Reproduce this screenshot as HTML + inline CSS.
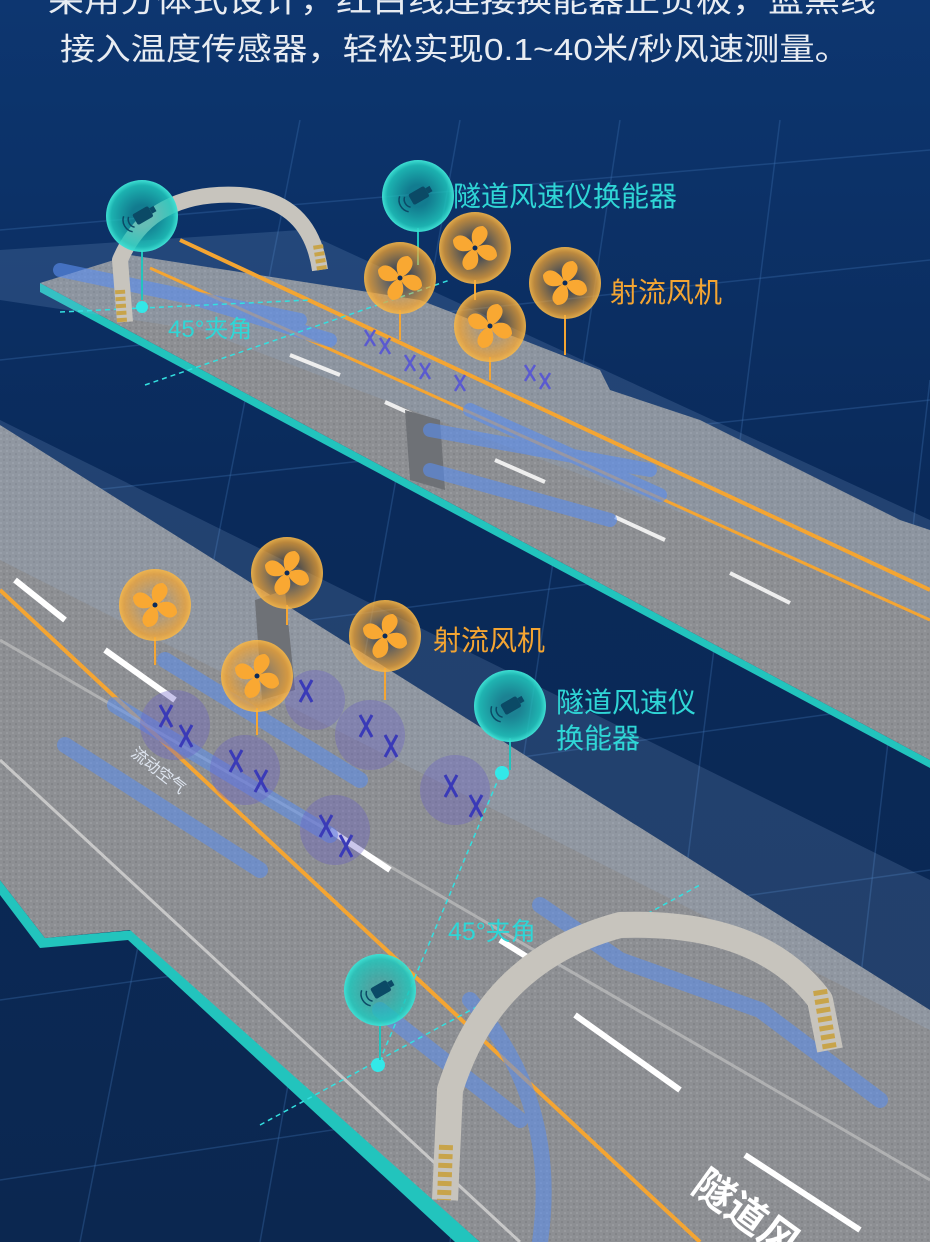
<!DOCTYPE html>
<html><head><meta charset="utf-8"><style>
html,body{margin:0;padding:0;width:930px;height:1242px;overflow:hidden;background:#0b2c5c}
svg{display:block}
text{font-family:"Liberation Sans","Noto Sans CJK SC",sans-serif}
</style></head><body>
<svg width="930" height="1242" viewBox="0 0 930 1242" xmlns="http://www.w3.org/2000/svg">
<defs>
<linearGradient id="bg" x1="0" y1="0" x2="0" y2="1">
<stop offset="0" stop-color="#0d3670"/><stop offset="0.4" stop-color="#0a2a5a"/><stop offset="1" stop-color="#0b2750"/></linearGradient>
<radialGradient id="fan" cx="0.5" cy="0.5" r="0.5"><stop offset="0.3" stop-color="#f4a532" stop-opacity="0.25"/><stop offset="0.85" stop-color="#f4a532" stop-opacity="0.75"/><stop offset="1" stop-color="#f8b848" stop-opacity="0.9"/></radialGradient>
<radialGradient id="tr" cx="0.5" cy="0.5" r="0.5"><stop offset="0.3" stop-color="#17b8b0" stop-opacity="0.55"/><stop offset="0.85" stop-color="#1fc8bd" stop-opacity="0.85"/><stop offset="1" stop-color="#3fe0d4"/></radialGradient>
<g id="fanI">
<circle r="36" fill="url(#fan)"/>
<g fill="#f9a832">
<path d="M0,0 C-6,-10 -4,-22 8,-22 C18,-16 10,-4 0,0Z"/>
<path d="M0,0 C10,-6 22,-4 22,8 C16,18 4,10 0,0Z"/>
<path d="M0,0 C6,10 4,22 -8,22 C-18,16 -10,4 0,0Z"/>
<path d="M0,0 C-10,6 -22,4 -22,-8 C-16,-18 -4,-10 0,0Z"/>
</g><circle r="2.5" fill="#0b2c5c"/>
</g>
<g id="trI">
<circle r="36" fill="url(#tr)"/>
<g transform="rotate(-30)"><rect x="-8" y="-6" width="18" height="12" rx="2" fill="#0b4a66"/><rect x="10" y="-3" width="5" height="6" fill="#0b4a66"/>
<path d="M-12,-6 A8,8 0 0 0 -12,6 M-16,-9 A12,12 0 0 0 -16,9" stroke="#0b4a66" stroke-width="1.5" fill="none"/></g>
</g>
<pattern id="asph" width="6" height="6" patternUnits="userSpaceOnUse"><rect width="6" height="6" fill="#8d8f93"/><circle cx="1" cy="1" r="0.8" fill="#a5a7ab"/><circle cx="4" cy="4" r="0.8" fill="#76787c"/></pattern>
</defs>
<rect width="930" height="1242" fill="url(#bg)"/>
<g stroke="#3d6fb0" stroke-opacity="0.35" stroke-width="1.5" fill="none">
<path d="M0,230 L930,150 M0,360 L930,260 M0,500 L930,400 M0,660 L930,540 M0,830 L930,700 M0,1000 L930,870 M0,1180 L930,1040"/>
<path d="M80,1242 L300,120 M260,1242 L460,120 M450,1242 L620,120 M640,1242 L780,120 M830,1242 L930,380"/>
</g>
<text x="48" y="12" font-size="31" fill="#e8ecf2" textLength="828" lengthAdjust="spacingAndGlyphs">采用分体式设计，红白线连接换能器正负极，蓝黑线</text>
<text x="60" y="60" font-size="31" fill="#e8ecf2" textLength="790" lengthAdjust="spacingAndGlyphs">接入温度传感器，轻松实现0.1~40米/秒风速测量。</text>

<!-- top road -->
<polygon points="40,283 40,292 930,768 930,760" fill="#22c4bd"/>
<polygon points="40,283 130,255 420,300 600,370 610,390 700,420 900,520 930,530 930,760" fill="url(#asph)"/>
<polygon points="0,250 300,230 930,520 930,620 700,520 200,330 0,300" fill="#8fb4e0" opacity="0.18"/>
<path d="M180,240 L930,590" stroke="#f4a532" stroke-width="4"/>
<path d="M150,268 L930,620" stroke="#f4a532" stroke-width="3"/>
<path d="M290,355 L340,375 M385,402 L425,420 M495,460 L545,482 M615,517 L665,540 M730,573 L790,603" stroke="#eee" stroke-width="4"/>
<polygon points="405,410 440,420 445,490 410,480" fill="#6e7176"/>
<g stroke="#5a8ef0" stroke-width="14" opacity="0.6" stroke-linecap="round" fill="none">
<path d="M60,270 L300,320"/><path d="M200,300 L330,340"/><path d="M430,430 L650,470"/><path d="M430,470 L610,520"/><path d="M470,410 L660,495"/></g>
<g stroke="#5a5ad0" stroke-width="2.5">
<path d="M365,330 l10,16 M375,330 l-10,16 M380,338 l10,16 M390,338 l-10,16 M405,355 l10,16 M415,355 l-10,16 M420,363 l10,16 M430,363 l-10,16 M455,375 l10,16 M465,375 l-10,16 M525,365 l10,16 M535,365 l-10,16 M540,373 l10,16 M550,373 l-10,16"/></g>
<path d="M60,312 L310,300 M145,385 L450,280" stroke="#33e0e0" stroke-width="1.5" stroke-dasharray="5,4"/>
<circle cx="142" cy="307" r="6" fill="#33e8e8"/>
<text x="168" y="337" font-size="24" fill="#2fd6d6">45°夹角</text>
<!-- top arch -->
<path d="M125,322 L120,260 Q150,190 240,195 Q310,200 320,270" stroke="#c7c4bd" stroke-width="16" fill="none" stroke-linejoin="round"/>
<path d="M120,290 L122,322 M318,245 L322,270" stroke="#c8a44a" stroke-width="10" stroke-dasharray="4,3"/>

<!-- bottom road -->
<polygon points="0,880 45,938 135,930 480,1242 455,1242 128,940 40,948 0,895" fill="#22c4bd"/>
<polygon points="0,425 930,1010 930,1242 480,1242 130,930 45,938 0,880" fill="url(#asph)"/>
<polygon points="0,420 930,880 930,1030 0,560" fill="#9fc0ea" opacity="0.16"/>
<path d="M0,590 L700,1242" stroke="#f4a532" stroke-width="4"/>
<path d="M0,760 L520,1242" stroke="#c8c8c8" stroke-width="3"/>
<path d="M0,640 L930,1180" stroke="#c8c8c8" stroke-width="3" opacity="0.6"/>
<path d="M15,580 L65,620 M105,650 L175,700 M330,830 L390,870 M500,940 L540,965 M575,1015 L680,1090 M745,1155 L860,1230" stroke="#fff" stroke-width="6"/>
<polygon points="255,600 285,590 295,690 262,700" fill="#6e7176"/>
<g stroke="#5a8ef0" stroke-width="16" opacity="0.55" stroke-linecap="round" fill="none">
<path d="M65,745 L260,870"/><path d="M115,705 L330,835"/><path d="M165,660 L360,780"/><path d="M380,1010 L520,1120"/><path d="M540,905 L620,960 L760,1010 L880,1100"/><path d="M470,1000 Q560,1100 540,1242"/></g>
<g fill="#6a5fc8" opacity="0.35"><circle cx="175" cy="725" r="35"/><circle cx="245" cy="770" r="35"/><circle cx="335" cy="830" r="35"/><circle cx="370" cy="735" r="35"/><circle cx="455" cy="790" r="35"/><circle cx="315" cy="700" r="30"/></g>
<g stroke="#3a3ab8" stroke-width="3">
<path d="M160,705 l12,22 M172,705 l-12,22 M180,725 l12,22 M192,725 l-12,22 M230,750 l12,22 M242,750 l-12,22 M255,770 l12,22 M267,770 l-12,22 M320,815 l12,22 M332,815 l-12,22 M340,835 l12,22 M352,835 l-12,22 M300,680 l12,22 M312,680 l-12,22 M360,715 l12,22 M372,715 l-12,22 M385,735 l12,22 M397,735 l-12,22 M445,775 l12,22 M457,775 l-12,22 M470,795 l12,22 M482,795 l-12,22"/></g>
<text x="130" y="755" font-size="16" fill="#dfe6f0" transform="rotate(38 130 755)">流动空气</text>
<path d="M500,775 L378,1065 M260,1125 L700,885" stroke="#33e0e0" stroke-width="1.5" stroke-dasharray="5,4"/>
<circle cx="502" cy="773" r="7" fill="#33e8e8"/><circle cx="378" cy="1065" r="7" fill="#33e8e8"/>
<text x="448" y="940" font-size="25" fill="#2fd6d6">45°夹角</text>
<!-- bottom arch -->
<path d="M445,1200 L450,1090 Q490,960 620,925 Q760,920 820,1000 L830,1050" stroke="#c7c4bd" stroke-width="26" fill="none" stroke-linejoin="round"/>
<path d="M446,1145 L444,1200 M820,990 L830,1050" stroke="#c8a44a" stroke-width="14" stroke-dasharray="5,4"/>
<text x="690" y="1190" font-size="40" fill="#fff" font-weight="bold" transform="rotate(36 690 1190)">隧道风</text>

<!-- pins & icons -->
<g stroke="#f4a532" stroke-width="2">
<path d="M400,310 V340 M475,280 V300 M565,315 V355 M490,357 V380 M287,605 V625 M155,637 V665 M385,668 V700 M257,708 V735"/></g>
<g stroke="#22c4bd" stroke-width="2"><path d="M142,250 V300 M418,228 V265 M510,738 V770 M380,1022 V1060"/></g>
<use href="#fanI" x="400" y="278"/><use href="#fanI" x="475" y="248"/><use href="#fanI" x="565" y="283"/><use href="#fanI" x="490" y="326"/>
<use href="#fanI" x="287" y="573"/><use href="#fanI" x="155" y="605"/><use href="#fanI" x="385" y="636"/><use href="#fanI" x="257" y="676"/>
<use href="#trI" x="142" y="216"/><use href="#trI" x="418" y="196"/><use href="#trI" x="510" y="706"/><use href="#trI" x="380" y="990"/>
<text x="453" y="206" font-size="28" fill="#2fd6d6">隧道风速仪换能器</text>
<text x="610" y="302" font-size="28" fill="#f4a532">射流风机</text>
<text x="433" y="650" font-size="28" fill="#f4a532">射流风机</text>
<text x="556" y="712" font-size="28" fill="#2fd6d6">隧道风速仪</text>
<text x="556" y="748" font-size="28" fill="#2fd6d6">换能器</text>
</svg>
</body></html>
